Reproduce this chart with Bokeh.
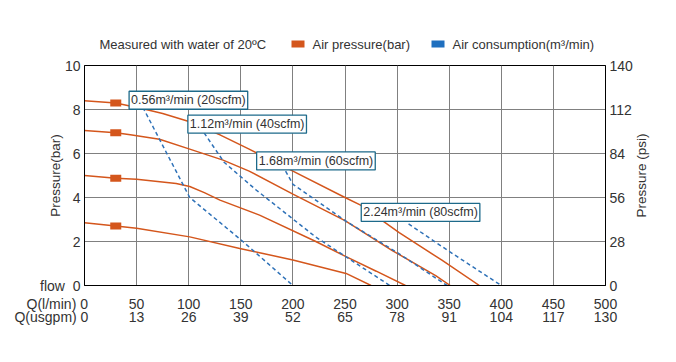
import math
from bokeh.plotting import figure
from bokeh.layouts import column, row
from bokeh.models import Range1d, LinearAxis, FixedTicker, Label
from bokeh.core.properties import value
from bokeh.embed import file_html
from bokeh.resources import INLINE

# ---------------- data ----------------
flow_ticks = [0, 50, 100, 150, 200, 250, 300, 350, 400, 450, 500]
usgpm_labels = ["0", "13", "26", "39", "52", "65", "78", "91", "104", "117", "130"]
bar_ticks = [0, 2, 4, 6, 8, 10]
psi_ticks = [0, 28, 56, 84, 112, 140]

# pump curves: outlet pressure (bar) vs flow (l/min), one per air-inlet pressure
curve1_q = [0, 30, 56, 75, 101, 130, 158, 200, 250, 265, 302, 343, 379]
curve1_p = [8.4, 8.3, 8.03, 7.82, 7.44, 6.85, 6.2, 5.2, 4.0, 3.65, 2.4, 1.15, 0]
curve2_q = [0, 30, 44, 72, 101, 133, 158, 200, 250, 295, 337, 351]
curve2_p = [7.05, 6.94, 6.85, 6.65, 6.2, 5.7, 5.2, 4.15, 2.95, 1.6, 0.45, 0]
curve3_q = [0, 30, 50, 88, 101, 115, 130, 168, 222, 251, 280, 308]
curve3_p = [5.0, 4.88, 4.83, 4.64, 4.5, 4.22, 3.88, 3.2, 2.0, 1.31, 0.65, 0]
curve4_q = [0, 30, 50, 101, 149, 168, 200, 251, 275]
curve4_p = [2.85, 2.71, 2.6, 2.21, 1.68, 1.49, 1.16, 0.55, 0]

# air consumption iso-lines
air1_q = [56, 101, 152, 200]
air1_p = [8.1, 4.0, 2.0, 0]
air2_q = [111, 134, 165, 222, 293]
air2_p = [7.2, 5.6, 4.33, 2.2, 0]
air3_q = [193, 200, 250, 300, 348]
air3_p = [5.2, 4.6, 2.95, 1.5, 0]
air4_q = [311, 350, 400]
air4_p = [2.8, 1.55, 0]

air_labels = ["0.56m³/min (20scfm)", "1.12m³/min (40scfm)",
              "1.68m³/min (60scfm)", "2.24m³/min (80scfm)"]

marker_q = [30, 30, 30, 30]
marker_p = [8.3, 6.94, 4.88, 2.71]

legend_texts = ["Measured with water of 20ºC", "Air pressure(bar)", "Air consumption(m³/min)"]
psi_title = "Pressure (psi)"

# ---------------- styles / layout positions ----------------
ORANGE = "#d4561c"
BLUE = "#2f72b8"
LEG_BLUE = "#1f6fbf"
BOX_BLUE = "#1d6a8a"
GRID = "#808080"
TEXT = "#333333"
FONT = "Liberation Sans"
NB = "\u00a0"

label_anchor_q = [42.8, 99.2, 165.2, 265.6]
label_anchor_p = [8.83, 7.74, 6.07, 3.73]

MAIN_W, MAIN_H = 635, 290
SIDE_W = 35
TOP_B, BOT_B, LEFT_B, RIGHT_B = 9, 61, 84, 28

# legend strip: frame spans page px 84..607
STRIP_W, STRIP_H = MAIN_W + SIDE_W, 56
leg_text_x = [99, 312, 452]
leg_swatch_x = [297.5, 437.5]
leg_row_y = 12

strip = figure(width=STRIP_W, height=STRIP_H, output_backend="svg", toolbar_location=None,
               x_range=Range1d(84, 607), y_range=Range1d(0, STRIP_H),
               x_axis_type=None, y_axis_type=None, outline_line_color=None,
               min_border=0, min_border_left=84, min_border_right=STRIP_W - 607,
               min_border_top=0, min_border_bottom=0)
strip.xgrid.visible = False
strip.ygrid.visible = False
strip.text(x=leg_text_x, y=[leg_row_y] * 3, text=legend_texts,
           text_font=value(FONT), text_font_size="13px", text_color=TEXT,
           text_baseline="middle", text_align="left")
strip.rect(x=leg_swatch_x, y=[leg_row_y + 0.5] * 2, width=13, height=7,
           width_units="screen", height_units="screen",
           fill_color=[ORANGE, LEG_BLUE], line_color=None)

# main chart
p = figure(width=MAIN_W, height=MAIN_H, output_backend="svg", toolbar_location=None,
           x_range=Range1d(0, 500), y_range=Range1d(0, 10),
           min_border_left=LEFT_B, min_border_right=RIGHT_B,
           min_border_top=TOP_B, min_border_bottom=BOT_B,
           outline_line_color="black", outline_line_width=1,
           background_fill_color="white", border_fill_color="white")

def style_axis(ax):
    ax.axis_line_color = "black"
    ax.axis_line_width = 1
    ax.major_tick_out = 0
    ax.major_tick_in = 0
    ax.minor_tick_line_color = None
    ax.major_label_text_font = FONT
    ax.major_label_text_font_size = "14px"
    ax.major_label_text_color = TEXT
    ax.axis_label_text_font = FONT
    ax.axis_label_text_font_size = "13.5px"
    ax.axis_label_text_font_style = "normal"
    ax.axis_label_text_color = TEXT

# bottom axis (l/min); the row title sits left of the 0 label
xa = p.xaxis[0]
xa.ticker = FixedTicker(ticks=flow_ticks)
style_axis(xa)
xa.major_label_standoff = 10
xa.major_label_overrides = {0: "Q(l/min)" + NB + "0" + NB * 14}

# second bottom row (usgpm)
usgpm_over = {t: s for t, s in zip(flow_ticks, usgpm_labels)}
usgpm_over[0] = "Q(usgpm)" + NB + usgpm_labels[0] + NB * 17
xa2 = LinearAxis(ticker=FixedTicker(ticks=flow_ticks), major_label_overrides=usgpm_over)
style_axis(xa2)
xa2.axis_line_color = None
xa2.major_label_standoff = -6
p.add_layout(xa2, "below")

# left axis (bar)
ya = p.yaxis[0]
ya.ticker = FixedTicker(ticks=bar_ticks)
style_axis(ya)
ya.major_label_standoff = 4
ya.major_label_overrides = {0: "flow" + NB + NB + "0"}
ya.axis_label = "Pressure(bar)"
ya.axis_label_standoff = -26

# right axis (psi); its title is drawn in the side strip
p.extra_y_ranges = {"psi": Range1d(0, 140)}
yr = LinearAxis(y_range_name="psi", ticker=FixedTicker(ticks=psi_ticks))
style_axis(yr)
yr.major_label_standoff = 4
p.add_layout(yr, "right")

# grids
p.xgrid.ticker = FixedTicker(ticks=flow_ticks[1:-1])
p.ygrid.ticker = FixedTicker(ticks=bar_ticks[1:-1])
for g in (p.xgrid[0], p.ygrid[0]):
    g.grid_line_color = GRID
    g.grid_line_width = 1

# curves
for q, pr in [(curve1_q, curve1_p), (curve2_q, curve2_p),
              (curve3_q, curve3_p), (curve4_q, curve4_p)]:
    p.line(q, pr, line_color=ORANGE, line_width=1.5)

for q, pr in [(air1_q, air1_p), (air2_q, air2_p),
              (air3_q, air3_p), (air4_q, air4_p)]:
    p.line(q, pr, line_color=BLUE, line_width=1.5, line_dash="4 3")

p.rect(marker_q, marker_p, width=11, height=7, width_units="screen",
       height_units="screen", fill_color=ORANGE, line_color=None)

# boxed air labels
for txt, lq, lp in zip(air_labels, label_anchor_q, label_anchor_p):
    p.add_layout(Label(x=lq, y=lp, text=txt, text_align="left", text_baseline="top",
                       text_font=FONT, text_font_size="12.5px", text_color=TEXT,
                       border_line_color=BOX_BLUE, border_line_width=1.3,
                       background_fill_color="white", background_fill_alpha=1,
                       padding=2))

# side strip carrying the right-axis title, reading bottom-to-top
side = figure(width=SIDE_W, height=MAIN_H, output_backend="svg", toolbar_location=None,
              x_range=Range1d(0, SIDE_W), y_range=Range1d(0, 10),
              x_axis_type=None, y_axis_type=None, outline_line_color=None,
              min_border=0, min_border_left=0, min_border_right=0,
              min_border_top=TOP_B, min_border_bottom=BOT_B)
side.xgrid.visible = False
side.ygrid.visible = False
side.text(x=[6], y=[5], text=[psi_title], angle=math.pi / 2,
          text_font=value(FONT), text_font_size="13.5px", text_color=TEXT,
          text_align="center", text_baseline="middle")

layout = column(strip, row(p, side, spacing=0), spacing=0)
open("out.html", "w").write(file_html(layout, INLINE))
